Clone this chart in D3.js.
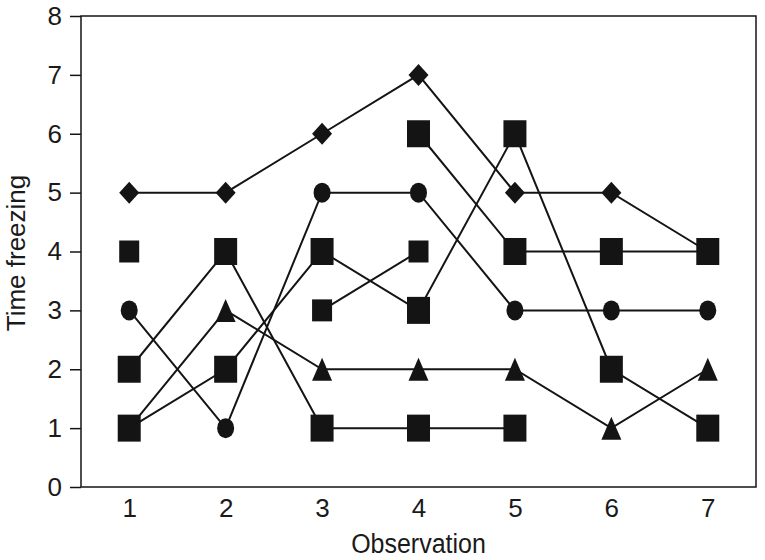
<!DOCTYPE html>
<html>
<head>
<meta charset="utf-8">
<script src="https://cdn.jsdelivr.net/npm/d3@7"></script>
<style>
  html, body { margin: 0; padding: 0; background: #fff; }
  svg { display: block; }
  text { font-family: "Liberation Sans", Arial, Helvetica, sans-serif; fill: #1a1a1a; }
</style>
</head>
<body>
<svg id="chart" width="765" height="560"></svg>
<script>
// ---- Data ----
const observations = [1, 2, 3, 4, 5, 6, 7];
const xTickLabels = ["1", "2", "3", "4", "5", "6", "7"];
const yTickValues = [0, 1, 2, 3, 4, 5, 6, 7, 8];

const diamondSeries  = [5, 5, 6, 7, 5, 5, 4];
const circleSeries   = [3, 1, 5, 5, 3, 3, 3];
const triangleSeries = [1, 3, 2, 2, 2, 1, 2];
const squareSeriesA  = [2, 4, 1, 1, 1, null, null];
const squareSeriesB  = [1, 2, 4, 3, 6, 2, 1];
const squareSeriesC  = [null, null, null, 6, 4, 4, 4];
const smallSquareSeries = [4, null, 3, 4, null, null, null];

const xTitle = "Observation";
const yTitle = "Time freezing";

// ---- Layout ----
const svg = d3.select("#chart");
const plotLeft = 81, plotRight = 756, plotTop = 16, plotBottom = 487;
const ink = "#141414";

const x = d3.scaleLinear().domain([0.5, 7.5]).range([plotLeft, plotRight]);
const y = d3.scaleLinear().domain([0, 8]).range([plotBottom, plotTop]);

// frame
svg.append("rect")
  .attr("x", plotLeft).attr("y", plotTop)
  .attr("width", plotRight - plotLeft).attr("height", plotBottom - plotTop)
  .attr("fill", "none").attr("stroke", ink).attr("stroke-width", 1.5);

// y axis
const yAxis = svg.append("g")
  .attr("transform", `translate(${plotLeft},0)`)
  .call(d3.axisLeft(y).tickValues(yTickValues).tickSize(11).tickPadding(8).tickFormat(d3.format("d")));
yAxis.select(".domain").remove();
yAxis.selectAll("line").attr("stroke", ink).attr("stroke-width", 1.5);
yAxis.selectAll("text").attr("font-size", 26).style("font-family", "'Liberation Sans', Arial, sans-serif").attr("fill", ink);

// x axis (labels only, no tick marks)
const xAxis = svg.append("g")
  .attr("transform", `translate(0,${plotBottom})`)
  .call(d3.axisBottom(x).tickValues(observations).tickSize(0).tickPadding(12)
    .tickFormat((d, i) => xTickLabels[i]));
xAxis.select(".domain").remove();
xAxis.selectAll("text").attr("font-size", 26).style("font-family", "'Liberation Sans', Arial, sans-serif").attr("fill", ink);

// titles
svg.append("text")
  .attr("transform", `translate(${(plotLeft + plotRight) / 2},553) scale(1,1.12)`)
  .attr("text-anchor", "middle").attr("font-size", 25).attr("fill", ink)
  .text(xTitle);
svg.append("text")
  .attr("transform", `translate(25,253) rotate(-90)`)
  .attr("text-anchor", "middle").attr("font-size", 26).attr("fill", ink)
  .text(yTitle);

// ---- Series ----
const series = [
  { values: triangleSeries, shape: "triangle", w: 20, h: 23 },
  { values: diamondSeries, shape: "diamond", w: 20, h: 22 },
  { values: circleSeries, shape: "circle", w: 17, h: 20 },
  { values: smallSquareSeries, shape: "square", w: 20, h: 22 },
  { values: squareSeriesA, shape: "square", w: 23, h: 27 },
  { values: squareSeriesB, shape: "square", w: 23, h: 27 },
  { values: squareSeriesC, shape: "square", w: 23, h: 27 }
];

const line = d3.line()
  .defined(d => d.v !== null)
  .x(d => x(d.o))
  .y(d => y(d.v));

const toPoints = s => observations.map((o, i) => ({ o, v: s.values[i] }));

// lines first
svg.append("g").selectAll("path")
  .data(series)
  .join("path")
  .attr("d", s => line(toPoints(s)))
  .attr("fill", "none")
  .attr("stroke", ink)
  .attr("stroke-width", 2);

// markers on top
function markerPath(shape, w, h) {
  const hw = w / 2, hh = h / 2;
  if (shape === "triangle") return `M0,${-hh}L${hw},${hh}L${-hw},${hh}Z`;
  if (shape === "diamond") return `M0,${-hh}L${hw},0L0,${hh}L${-hw},0Z`;
  if (shape === "square") return `M${-hw},${-hh}H${hw}V${hh}H${-hw}Z`;
  return `M${-hw},0A${hw},${hh} 0 1,0 ${hw},0A${hw},${hh} 0 1,0 ${-hw},0Z`;
}

const mg = svg.append("g");
series.forEach(s => {
  mg.append("g").selectAll("path")
    .data(toPoints(s).filter(d => d.v !== null))
    .join("path")
    .attr("transform", d => `translate(${x(d.o)},${y(d.v)})`)
    .attr("d", markerPath(s.shape, s.w, s.h))
    .attr("fill", ink);
});
</script>
</body>
</html>
